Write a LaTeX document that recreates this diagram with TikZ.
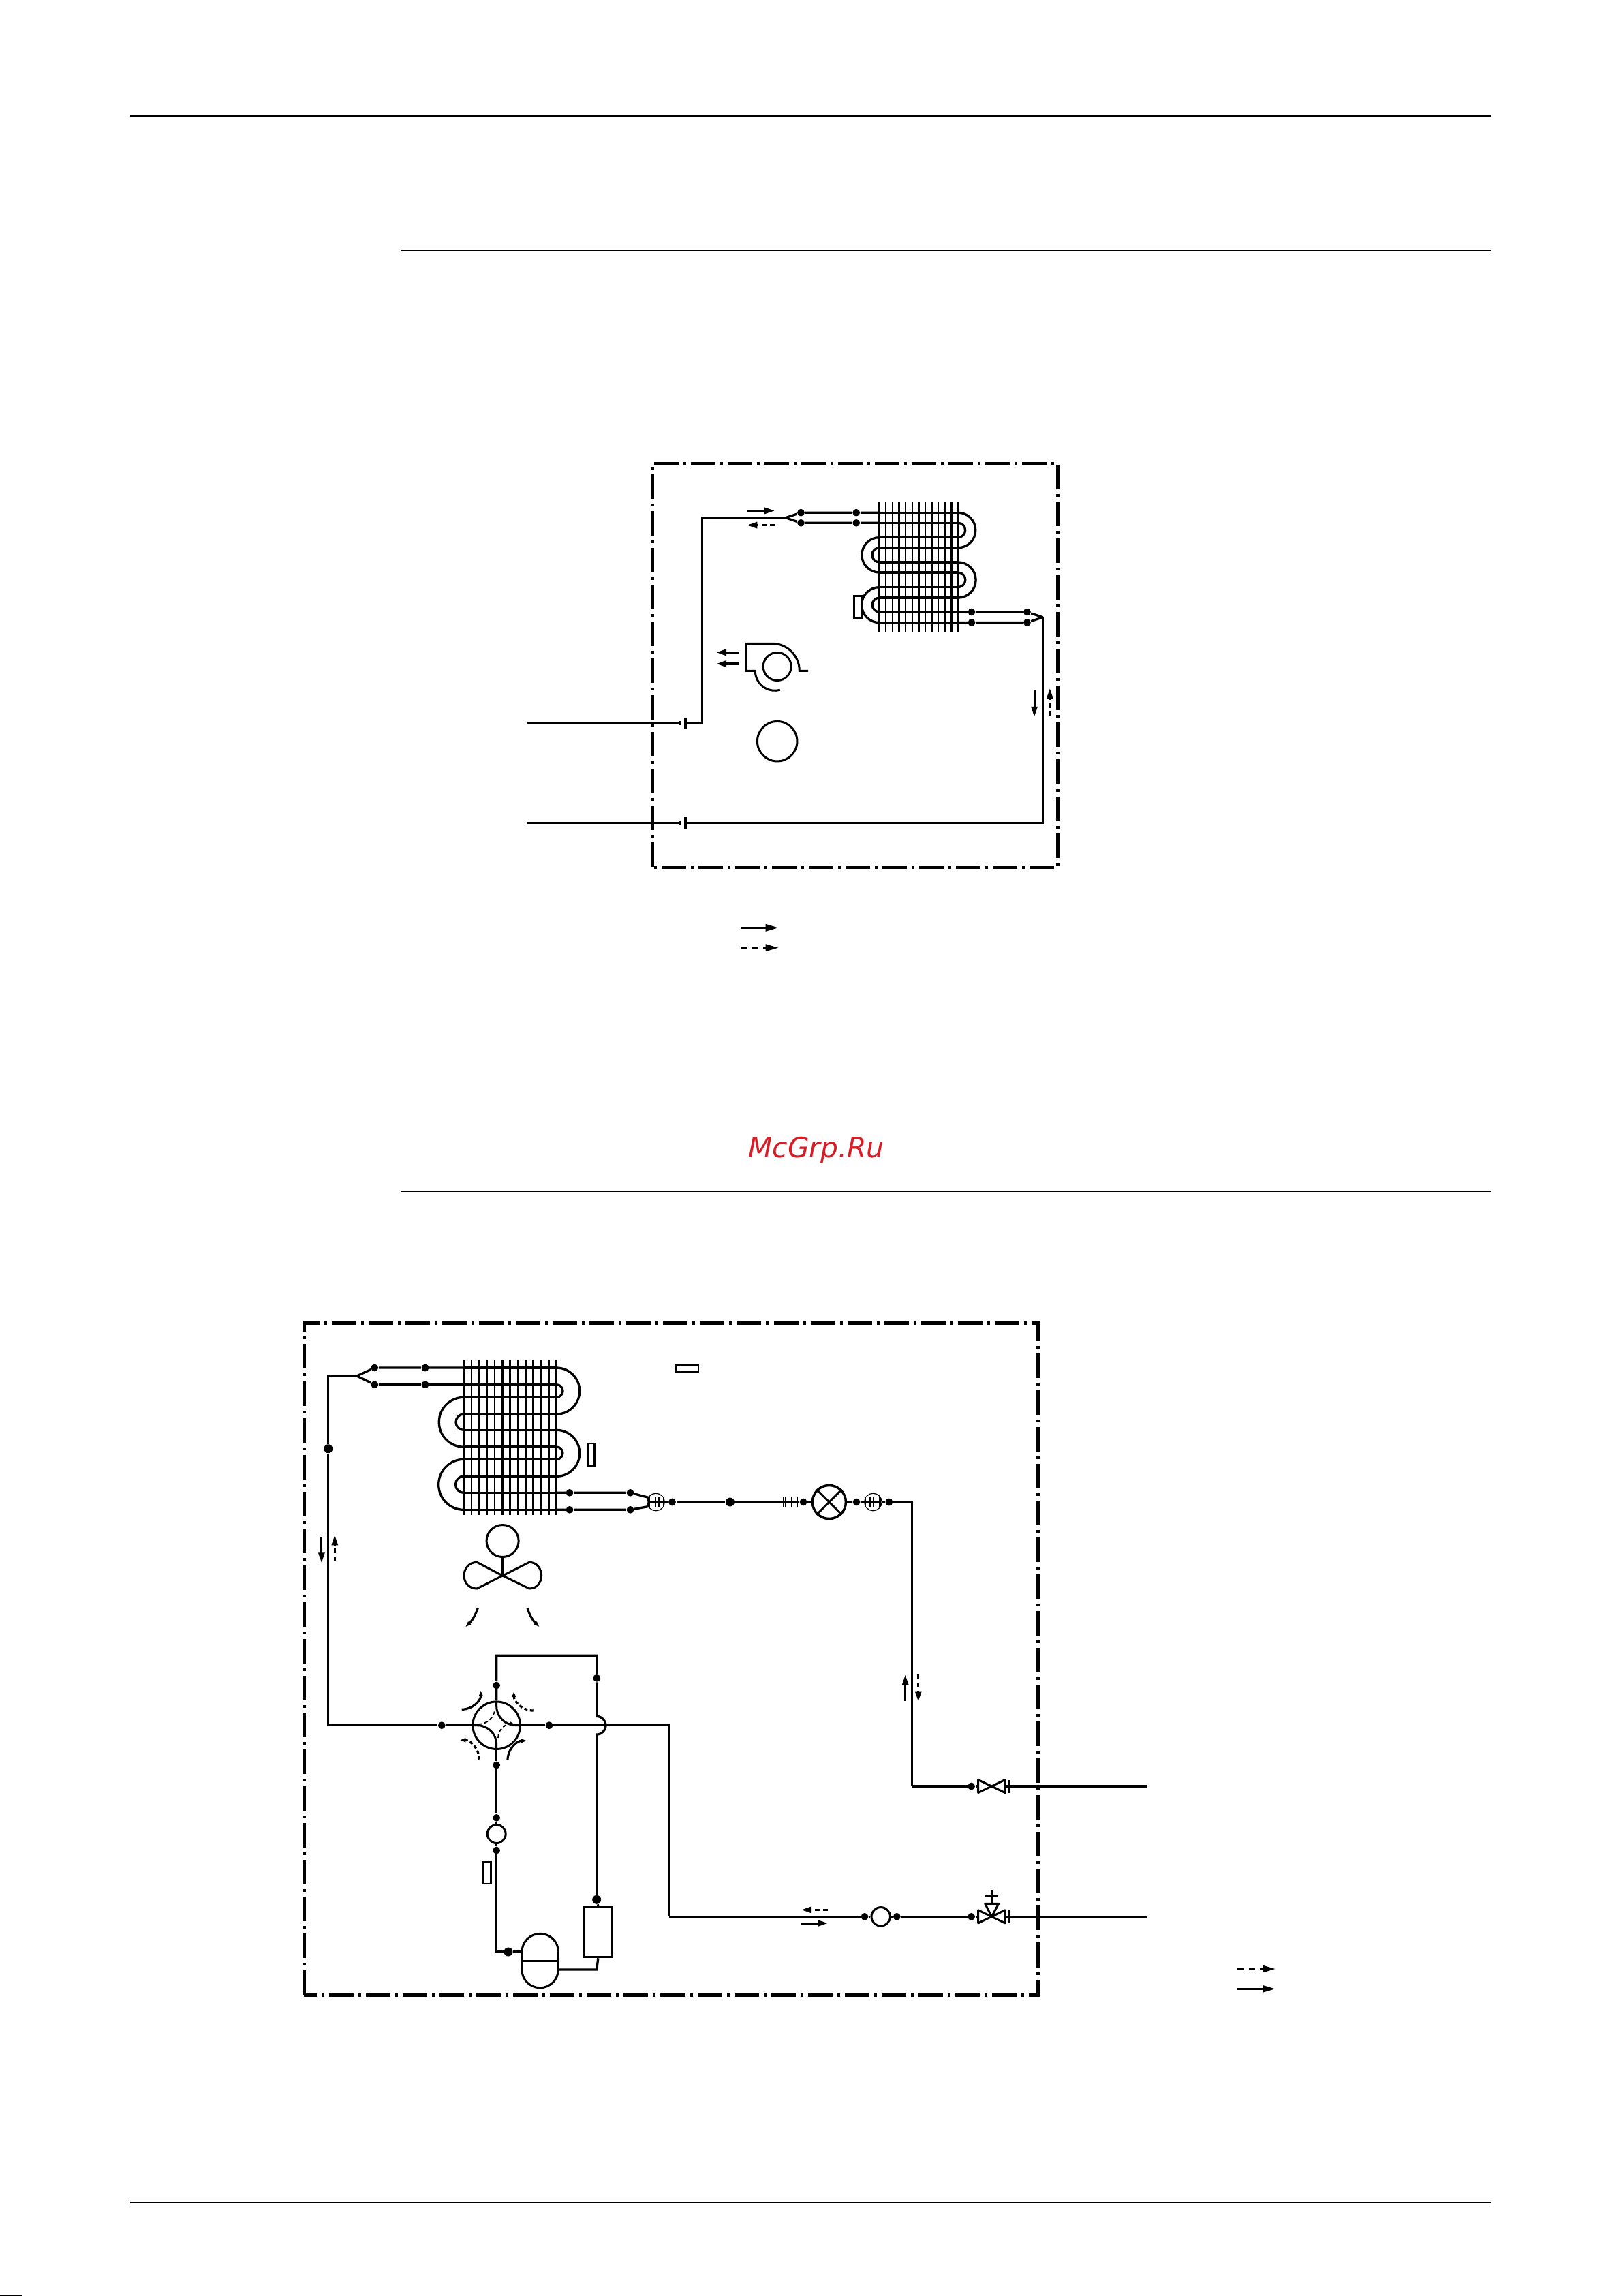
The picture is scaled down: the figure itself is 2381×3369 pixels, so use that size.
\documentclass[tikz,border=0pt]{standalone}
\usepackage{fontspec}
\setsansfont{DejaVu Sans}
\usetikzlibrary{arrows.meta}
\usetikzlibrary{calc}
\definecolor{wmred}{RGB}{215,30,38}
\tikzset{
  pagerule/.style={line width=0.017cm},
  unitbox/.style={line width=0.05cm,dash pattern=on 0.36cm off 0.07cm on 0.04cm off 0.07cm},
  pipe/.style={line width=0.033cm,line join=miter},
  fin/.style={line width=0.024cm},
  part/.style={line width=0.03cm},
  thinpart/.style={line width=0.012cm},
  joint/.style={circle,fill=black,inner sep=0pt,minimum size=0.108cm},
  bigjoint/.style={circle,fill=black,inner sep=0pt,minimum size=0.13cm},
  flow/.style={line width=0.03cm,-{Triangle[length=0.15cm,width=0.09cm]}},
  longdashflow/.style={flow,dash pattern=on 0.07cm off 0.05cm},
  legendflow/.style={line width=0.03cm,-{Triangle[length=0.19cm,width=0.1cm]}},
  legenddash/.style={legendflow,dash pattern=on 0.095cm off 0.07cm},
  airflow/.style={line width=0.032cm,-{Latex[length=0.085cm,width=0.07cm]}},
  airdash/.style={airflow,dash pattern=on 0.05cm off 0.035cm},
  tag/.style={draw,line width=0.025cm,inner sep=0pt},
}
\begin{document}
\begin{tikzpicture}[x=0.01cm,y=0.01cm]
  \useasboundingbox (0,0) rectangle (2381,-3369);
  % page rules
  \draw[pagerule] (191,-170) -- (2188,-170);
  \draw[pagerule] (589,-368) -- (2188,-368);
  \draw[pagerule] (589,-1748) -- (2188,-1748);
  \draw[pagerule] (191,-3232) -- (2188,-3232);
  \draw[line width=0.02cm] (0,-3368.4) -- (32,-3368.4);
  \node[font=\sffamily\itshape\fontsize{11.6pt}{14pt}\selectfont,text=wmred] (mark) at (1198,-1688) {McGrp.Ru};

  % indoor unit
  \draw[unitbox] (957.5,-1272) -- (957.5,-680) -- (1552,-680) -- (1552,-1272) -- cycle;
  \foreach \i in {0,...,12}
    \draw[fin] ({1290.6+\i*9.63},-736.3) -- ({1290.6+\i*9.63},-928.2);
  \foreach \y in {752.2,767.3,788.6,803.7,824.9,840,861.6,877.1,898,913.5}
    \draw[pipe] (1290.6,-\y) -- (1406,-\y);
  \foreach \y/\rr in {752.2/.2575,767.3/.1065,824.9/.261,840/.108}
    \draw[pipe] (1406,-\y) arc[start angle=90,end angle=-90,radius=\rr cm];
  \foreach \y/\rr in {788.6/.257,803.7/.106,861.6/.26,877.1/.104}
    \draw[pipe] (1290.6,-\y) arc[start angle=90,end angle=270,radius=\rr cm];
  \node[joint] (ina) at (1175.5,-752.2) {};
  \node[joint] (inb) at (1175.5,-767.3) {};
  \node[joint] (inc) at (1256.7,-752.2) {};
  \node[joint] (ind) at (1256.7,-767.3) {};
  \coordinate (inforkc) at (1153,-759.7);
  \coordinate (coila) at (1290.6,-752.2);
  \coordinate (coilb) at (1290.6,-767.3);
  \draw[pipe] (inforkc) -- (ina) -- (inc) -- (coila);
  \draw[pipe] (inforkc) -- (inb) -- (ind) -- (coilb);
  \node[joint] (outa) at (1426,-898) {};
  \node[joint] (outb) at (1426,-913.5) {};
  \node[joint] (outc) at (1507.4,-898) {};
  \node[joint] (outd) at (1507.4,-913.5) {};
  \coordinate (outfork) at (1530.6,-905.7);
  \coordinate (coilc) at (1406,-898);
  \coordinate (coild) at (1406,-913.5);
  \draw[pipe] (coilc) -- (outa) -- (outc) -- (outfork);
  \draw[pipe] (coild) -- (outb) -- (outd) -- (outfork);
  \coordinate (gascap) at (1006,-1060.8);
  \coordinate (liqcap) at (1006,-1207.3);
  \coordinate (gascorner) at (1030.6,-1060.8);
  \coordinate (gastop) at (1030.6,-759.7);
  \coordinate (liqcorner) at (1530.6,-1207.3);
  \draw[pipe] (gascap) -- (gascorner) -- (gastop) -- (inforkc);
  \draw[pipe] (outfork) -- (liqcorner) -- (liqcap);
  \draw[pipe] (773,-1060.8) -- (997,-1060.8);
  \draw[pipe] (773,-1207.3) -- (997,-1207.3);
  \foreach \y in {1060.8,1207.3} {
    \draw[part,line width=0.04cm] (1006,-\y+8.3) -- (1006,-\y-8.3);
    \draw[part,line width=0.035cm] (997.5,-\y+3) -- (997.5,-\y-3);
  }
  \node[tag,anchor=north west,minimum width=0.11cm,minimum height=0.33cm] (indoortag) at (1252,-873) {};
  % indoor fan
  \draw[part] (1186,-984.3) -- (1173.3,-984.3) arc[start angle=0,end angle=90,radius=.4cm]
    -- (1095,-944.3) -- (1095,-984.3) -- (1108.3,-984.3) arc[start angle=180,end angle=285,radius=.29cm];
  \node[draw,circle,part,inner sep=0pt,minimum size=0.41cm] (fanwheel) at (1140.7,-978) {};
  \node[draw,circle,part,inner sep=0pt,minimum size=0.585cm] (fanmotor) at (1140.7,-1087.7) {};
  \draw[flow,line width=0.035cm] (1084,-957.3) -- (1051,-957.3);
  \draw[flow,line width=0.035cm] (1084,-974) -- (1051,-974);
  % indoor flow arrows
  \draw[flow] (1096.3,-749.4) -- (1137,-749.4);
  \draw[longdashflow] (1137,-770.6) -- (1096.3,-770.6);
  \draw[flow] (1518,-1011.8) -- (1518,-1051.8);
  \draw[longdashflow] (1540.8,-1051) -- (1540.8,-1010);
  \draw[legendflow] (1087.3,-1361.3) -- (1142.7,-1361.3);
  \draw[legenddash] (1087.3,-1390.7) -- (1142.7,-1390.7);

  % outdoor unit
  \draw[unitbox] (446,-2927) -- (446,-1941.5) -- (1523.3,-1941.5) -- (1523.3,-2927) -- cycle;
  \foreach \i in {0,...,12}
    \draw[fin] ({680.7+\i*11.33},-1996) -- ({680.7+\i*11.33},-2222.7);
  \foreach \y in {2007,2031.7,2050.3,2075,2098.3,2123,2141.3,2166,2190.3,2215.3}
    \draw[pipe] (680.7,-\y) -- (816.7,-\y);
  \foreach \y/\rr in {2007/.34,2031.7/.093,2098.3/.34,2123/.092}
    \draw[pipe] (816.7,-\y) arc[start angle=90,end angle=-90,radius=\rr cm];
  \foreach \y/\rr in {2050.3/.364,2075/.117,2141.3/.37,2166/.122}
    \draw[pipe] (680.7,-\y) arc[start angle=90,end angle=270,radius=\rr cm];
  \node[joint] (oa) at (549.8,-2007) {};
  \node[joint] (ob) at (549.8,-2031.7) {};
  \node[joint] (oc) at (624.1,-2007) {};
  \node[joint] (od) at (624.1,-2031.7) {};
  \coordinate (ofork) at (523.7,-2019);
  \coordinate (ocoila) at (680.7,-2007);
  \coordinate (ocoilb) at (680.7,-2031.7);
  \draw[pipe] (ofork) -- (oa) -- (oc) -- (ocoila);
  \draw[pipe] (ofork) -- (ob) -- (od) -- (ocoilb);
  \node[joint] (oe) at (836,-2190.3) {};
  \node[joint] (of) at (836,-2215.3) {};
  \node[joint] (og) at (925,-2190.3) {};
  \node[joint] (oh) at (925,-2215.3) {};
  \coordinate (ocoilc) at (816.7,-2190.3);
  \coordinate (ocoild) at (816.7,-2215.3);
  \coordinate (stra) at (951.5,-2197.3);
  \coordinate (strb) at (951.5,-2210.5);
  \draw[pipe] (ocoilc) -- (oe) -- (og) -- (stra);
  \draw[pipe] (ocoild) -- (of) -- (oh) -- (strb);
  % strainers and liquid line
  \node[draw,circle,thinpart,inner sep=0pt,minimum size=0.255cm] (straina) at (962.6,-2204) {};
  \node[draw,circle,thinpart,inner sep=0pt,minimum size=0.255cm] (strainc) at (1281.4,-2204) {};
  \foreach \cx in {962.6,1161.2,1281.4}
    \draw[thinpart,fill=white,xshift=\cx*0.01cm,yshift=-2204*0.01cm] (-11.2,-7.2) grid[xstep=4.48,ystep=4.8] (11.2,7.2) (-11.2,-7.2) rectangle (11.2,7.2);
  \node[joint] (la) at (986.5,-2204) {};
  \node[bigjoint] (lb) at (1071.4,-2204) {};
  \node[joint] (lc) at (1179,-2204) {};
  \node[draw,circle,line width=0.035cm,inner sep=0pt,minimum size=0.49cm] (expvalve) at (1216.9,-2204) {};
  \draw[line width=0.03cm] (expvalve.north east) -- (expvalve.south west);
  \draw[line width=0.03cm] (expvalve.north west) -- (expvalve.south east);
  \node[joint] (ld) at (1257,-2204) {};
  \node[joint] (le) at (1304.9,-2204) {};
  \coordinate (lcorner) at (1338.3,-2204);
  \coordinate (lvcorner) at (1338.3,-2621);
  \draw[pipe] (straina.east) -- (la) -- (lb) -- (1150,-2204);
  \draw[pipe] (1172.4,-2204) -- (lc) -- (expvalve);
  \draw[pipe] (expvalve) -- (ld) -- (1270,-2204);
  \draw[pipe] (strainc.east) -- (le) -- (lcorner) -- (lvcorner);
  % stop valves
  \node[joint] (lf) at (1425.7,-2621) {};
  \node[joint] (gf) at (1425.7,-2812.3) {};
  \draw[pipe] (lvcorner) -- (lf) -- (1435.7,-2621);
  \foreach \y in {2621,2812.3} {
    \draw[part,line join=round] (1435.7,-\y+9.5) -- (1475,-\y-9.5) -- (1475,-\y+9.5) -- (1435.7,-\y-9.5) -- cycle;
    \draw[part,line width=0.035cm] (1481,-\y+9.5) -- (1481,-\y-9.5);
    \draw[pipe] (1475,-\y) -- (1683,-\y);
  }
  \draw[part,line join=round] (1445.7,-2793.3) -- (1465.7,-2793.3) -- (1455.4,-2812.3) -- cycle;
  \draw[part] (1455.4,-2773.3) -- (1455.4,-2793.3);
  \draw[part] (1446,-2782.7) -- (1465.3,-2782.7);
  \node[draw,circle,part,inner sep=0pt,minimum size=0.275cm] (gasport) at (1292.7,-2812.3) {};
  \node[joint] (gd) at (1269,-2812.3) {};
  \node[joint] (ge) at (1316.3,-2812.3) {};
  \coordinate (gcorner) at (982,-2812.3);
  \draw[pipe] (gcorner) -- (gd) -- (gasport) -- (ge) -- (gf) -- (1435.7,-2812.3);
  % four way valve
  \node[draw,circle,part,inner sep=0pt,minimum size=0.695cm] (fourway) at (728.7,-2531.7) {};
  \node[joint] (wa) at (648.3,-2531.7) {};
  \node[joint] (wb) at (806,-2531.7) {};
  \node[joint] (wc) at (728.7,-2473) {};
  \node[joint] (wd) at (728.7,-2590) {};
  \node[bigjoint] (leftdot) at (481.8,-2125.7) {};
  \coordinate (lefttop) at (481.8,-2019);
  \coordinate (leftbot) at (481.8,-2531.7);
  \draw[pipe] (ofork) -- (lefttop) -- (leftdot) -- (leftbot) -- (wa) -- (fourway.west);
  \coordinate (wtop) at (728.7,-2429.3);
  \coordinate (wtopr) at (875.7,-2429.3);
  \coordinate (wbump) at (875.7,-2518.4);
  \node[joint] (we) at (875.7,-2462.3) {};
  \draw[pipe] (fourway.north) -- (wc) -- (wtop) -- (wtopr) -- (we) -- (wbump)
    arc[start angle=90,end angle=-90,radius=.133cm] -- (875.7,-2787.3);
  \draw[pipe] (fourway.east) -- (wb) -- (982,-2531.7) -- (gcorner);
  \draw[part] (728.7,-2497) -- (728.7,-2503.5) arc[start angle=180,end angle=270,radius=.28cm] -- (763.4,-2531.5);
  \draw[part] (694,-2531.7) -- (700.7,-2531.7) arc[start angle=90,end angle=0,radius=.28cm] -- (728.7,-2566.4);
  \draw[line width=0.018cm,dash pattern=on 0.055cm off 0.035cm] (702,-2530) arc[start angle=270,end angle=355,radius=.245cm];
  \draw[line width=0.018cm,dash pattern=on 0.055cm off 0.035cm,-{Latex[length=0.05cm,width=0.05cm]}] (731,-2550) arc[start angle=180,end angle=85,radius=.21cm];
  \draw[airflow] (677.7,-2508.3) arc[start angle=270,end angle=360,radius=.28cm];
  \draw[airdash] (782.7,-2510) arc[start angle=270,end angle=180,radius=.285cm];
  \draw[airflow] (745,-2582.7) arc[start angle=180,end angle=90,radius=.285cm];
  \draw[airdash] (703.3,-2581.7) arc[start angle=0,end angle=90,radius=.285cm];
  % compressor circuit
  \node[draw,circle,part,inner sep=0pt,minimum size=0.27cm] (wport) at (728.7,-2691) {};
  \node[joint] (wf) at (728.7,-2667.3) {};
  \node[joint] (wg) at (728.7,-2715) {};
  \node[bigjoint] (accdot) at (746,-2864) {};
  \node[bigjoint] (compdot) at (875.7,-2787.3) {};
  \coordinate (acccorner) at (728.7,-2864);
  \coordinate (accin) at (766,-2864);
  \draw[pipe] (wd) -- (wf) -- (wport) -- (wg) -- (acccorner) -- (accdot) -- (accin);
  \draw[pipe] (fourway.south) -- (wd);
  \draw[part] (766,-2864) arc[start angle=180,end angle=0,radius=.267cm] -- (819.3,-2890)
    arc[start angle=0,end angle=-180,radius=.267cm] -- cycle;
  \draw[part] (766,-2877.3) -- (819.3,-2877.3);
  \node[draw,part,anchor=south west,inner sep=0pt,minimum width=0.407cm,minimum height=0.733cm] (compressor) at (856,-2873.3) {};
  \draw[pipe] (compdot) -- (compressor.north);
  \coordinate (compcorner) at (875.7,-2890);
  \coordinate (accout) at (819.3,-2890);
  \draw[pipe] (compressor.south) -- (compcorner) -- (accout);
  % outdoor fan
  \node[draw,circle,part,inner sep=0pt,minimum size=0.47cm] (fanb) at (737.6,-2261) {};
  \coordinate (hub) at (737.6,-2312);
  \draw[part] (fanb) ++(0,-23.5) -- (hub);
  \draw[part,line join=round] (hub) -- (700,-2292.3) .. controls (688,-2292.3) and (681,-2302) .. (681,-2311.7)
    .. controls (681,-2322) and (688,-2331) .. (700,-2331) -- (hub)
    -- (776.8,-2292.3) .. controls (788,-2292.3) and (794.6,-2302) .. (794.6,-2311.7)
    .. controls (794.6,-2322) and (788,-2331) .. (776.8,-2331) -- cycle;
  \draw[airflow] (701.3,-2359.3) .. controls (698,-2370) and (692,-2379) .. (683,-2387.3);
  \draw[airflow] (774,-2359.3) .. controls (777,-2370) and (783,-2379) .. (791.8,-2387.3);
  % sensors
  \node[tag,anchor=north west,minimum width=0.1cm,minimum height=0.325cm] (tagcoil) at (861,-2116.5) {};
  \node[tag,anchor=north west,minimum width=0.325cm,minimum height=0.105cm] (tagair) at (991,-2001) {};
  \node[tag,anchor=north west,minimum width=0.11cm,minimum height=0.325cm] (tagsuct) at (708,-2730) {};
  % outdoor flow arrows
  \draw[flow] (471.9,-2255) -- (471.9,-2293.3);
  \draw[longdashflow] (491.3,-2290.7) -- (491.3,-2252.3);
  \draw[flow] (1328.7,-2496) -- (1328.7,-2457.3);
  \draw[longdashflow] (1347.7,-2457) -- (1347.7,-2496.7);
  \draw[longdashflow] (1215,-2802.3) -- (1176,-2802.3);
  \draw[flow] (1176,-2822) -- (1215,-2822);
  \draw[legenddash] (1816,-2889) -- (1872,-2889);
  \draw[legendflow] (1816,-2918.3) -- (1872,-2918.3);
\end{tikzpicture}
\end{document}
